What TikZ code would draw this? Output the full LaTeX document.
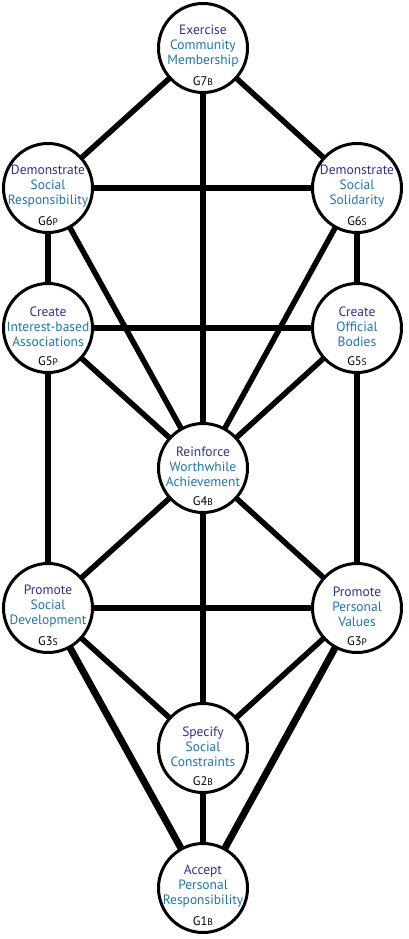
\documentclass[tikz,border=0pt]{standalone}
\usepackage{fontspec}
\setmainfont{PT Sans}
\usetikzlibrary{backgrounds}
\definecolor{goaldark}{HTML}{2E3192}
\definecolor{goallight}{HTML}{1B75BB}

\begin{document}
\begin{tikzpicture}[x=1pt,y=-1pt,
  goal/.style={circle,draw,line width=3pt,fill=white,minimum size=89pt,inner sep=0pt},
  goaltext/.style={align=center,text=goallight,font=\fontsize{13.5}{15}\selectfont,yshift=1.5pt},
  goalcode/.style={font=\fontsize{12.5}{13}\selectfont,yshift=-33pt}]

\useasboundingbox (0,0) rectangle (408,939);

\node[goal,label={[goaltext]center:{\textcolor{goaldark}{Exercise}\\Community\\Membership}},
  label={[goalcode]center:{G7{\fontsize{9.5}{10}\selectfont B}}}] (g7) at (203,48) {};

\node[goal,label={[goaltext]center:{\textcolor{goaldark}{Demonstrate}\\Social\\Responsibility}},
  label={[goalcode]center:{G6{\fontsize{9.5}{10}\selectfont P}}}] (g6p) at (48,188) {};
\node[goal,label={[goaltext]center:{\textcolor{goaldark}{Demonstrate}\\Social\\Solidarity}},
  label={[goalcode]center:{G6{\fontsize{9.5}{10}\selectfont S}}}] (g6s) at (357,188) {};

\node[goal,label={[goaltext]center:{\textcolor{goaldark}{Create}\\Interest-based\\Associations}},
  label={[goalcode]center:{G5{\fontsize{9.5}{10}\selectfont P}}}] (g5p) at (48,328) {};
\node[goal,label={[goaltext]center:{\textcolor{goaldark}{Create}\\Official\\Bodies}},
  label={[goalcode]center:{G5{\fontsize{9.5}{10}\selectfont S}}}] (g5s) at (357,328) {};

\node[goal,label={[goaltext]center:{\textcolor{goaldark}{Reinforce}\\Worthwhile\\Achievement}},
  label={[goalcode]center:{G4{\fontsize{9.5}{10}\selectfont B}}}] (g4) at (203,468) {};

\node[goal,label={[goaltext]center:{\textcolor{goaldark}{Promote}\\Social\\Development}},
  label={[goalcode]center:{G3{\fontsize{9.5}{10}\selectfont S}}}] (g3s) at (48,608) {};
\node[goal,label={[goaltext]center:{\textcolor{goaldark}{Promote}\\Personal\\Values}},
  label={[goalcode]center:{G3{\fontsize{9.5}{10}\selectfont P}}}] (g3p) at (357,608) {};

\node[goal,label={[goaltext]center:{\textcolor{goaldark}{Specify}\\Social\\Constraints}},
  label={[goalcode]center:{G2{\fontsize{9.5}{10}\selectfont B}}}] (g2) at (203,748) {};

\node[goal,label={[goaltext]center:{\textcolor{goaldark}{Accept}\\Personal\\Responsibility}},
  label={[goalcode]center:{G1{\fontsize{9.5}{10}\selectfont B}}}] (g1) at (203,888) {};

\begin{pgfonlayer}{background}
\foreach \a/\b in {g7/g6p,g7/g6s,g7/g4,g6p/g6s,g6p/g5p,g6p/g4,g6s/g5s,g6s/g4,
  g5p/g5s,g5p/g4,g5p/g3s,g5s/g4,g5s/g3p,g4/g3s,g4/g3p,g4/g2,
  g3s/g3p,g3s/g2,g3p/g2,g2/g1}
{
\draw[line width=5.5pt] (\a.center) -- (\b.center);
}
\foreach \a in {g3s,g3p}
{
\draw[line width=7pt] (\a.center) -- (g1.center);
}
\end{pgfonlayer}
\end{tikzpicture}
\end{document}
